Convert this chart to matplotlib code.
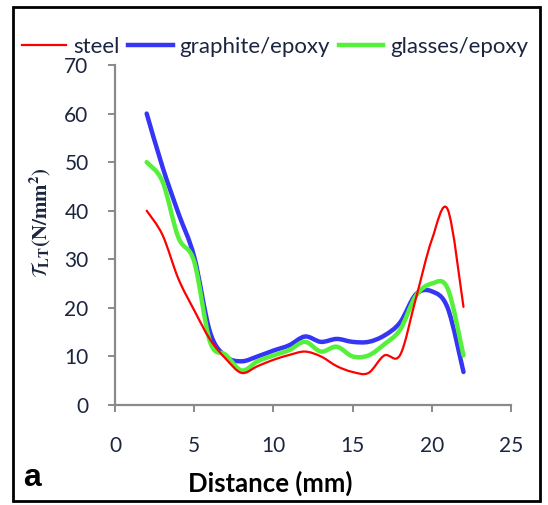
import numpy as np
import matplotlib
matplotlib.use('Agg')
import matplotlib.pyplot as plt
from matplotlib.path import Path
from matplotlib.patches import PathPatch, Rectangle
from matplotlib.lines import Line2D

plt.rcParams['mathtext.fontset'] = 'stix'

#distância (mm) e tensão de cisalhamento (N/mm2)
distance = [2, 3, 4, 5, 6, 7, 8, 9, 10, 11, 12, 13, 14, 15, 16, 17, 18, 19, 20, 21, 22]
steel = [40, 35, 26, 19.5, 13.5, 9.5, 6.6, 8, 9.3, 10.3, 11, 10, 8, 6.8, 6.6, 10.2, 10.3, 22, 34, 40.3, 20.2]
graphite = [60, 49, 39.5, 30.5, 15, 10, 9, 10, 11.2, 12.3, 14.1, 13, 13.6, 13, 13, 14.3, 17, 22.8, 23.4, 20, 6.8]
glasses = [50, 46, 34.5, 29.5, 13, 10.3, 7.1, 9, 10.2, 11.3, 13, 11, 12, 10, 10.2, 12.5, 15.5, 22.5, 25, 24, 10.2]

labels = ['steel', 'graphite/epoxy', 'glasses/epoxy']
colors = ['#FF0000', '#3535F5', '#55F03A']
widths = [1.6, 3.2, 3.2]

TXT = '#1c2540'
GRAY = '#8a8a8a'


def smooth_path(x, y):
    #curva suavizada tipo Excel (bezier a partir dos pontos)
    x = np.asarray(x, float)
    y = np.asarray(y, float)
    n = len(x)
    verts = [(x[0], y[0])]
    codes = [Path.MOVETO]
    for i in range(n - 1):
        x0, y0 = (x[i - 1], y[i - 1]) if i > 0 else (x[i], y[i])
        x3, y3 = (x[i + 2], y[i + 2]) if i + 2 < n else (x[i + 1], y[i + 1])
        c1 = (x[i] + (x[i + 1] - x0) / 6, y[i] + (y[i + 1] - y0) / 6)
        c2 = (x[i + 1] - (x3 - x[i]) / 6, y[i + 1] - (y3 - y[i]) / 6)
        verts += [c1, c2, (x[i + 1], y[i + 1])]
        codes += [Path.CURVE4] * 3
    return Path(verts, codes)


fig = plt.figure(figsize=(5.48, 5.05), dpi=100)
ax = fig.add_axes([115/548, 1 - 405/505, 396/548, 340/505])

series = [steel, graphite, glasses]
zorder = [5, 3, 4]
for s, c, w, z in zip(series, colors, widths, zorder):
    ax.add_patch(PathPatch(smooth_path(distance, s), facecolor='none', edgecolor=c,
                           lw=w, zorder=z, capstyle='round', joinstyle='round'))

ax.set_xlim(0, 25)
ax.set_ylim(0, 70)
ax.set_xticks(range(0, 26, 5))
ax.set_yticks(range(0, 71, 10))
for side in ['top', 'right']:
    ax.spines[side].set_visible(False)
for side in ['left', 'bottom']:
    ax.spines[side].set_color(GRAY)
    ax.spines[side].set_linewidth(1.6)
ax.tick_params(direction='out', length=5, width=1.4, color=GRAY, labelcolor=TXT,
               labelsize=15, labelfontfamily='Lato')
ax.tick_params(axis='x', pad=17)
ax.tick_params(axis='y', pad=14)

fig.text(40/548, 1 - 223/505, r'$\mathcal{T}_{\mathbf{LT}}\mathbf{(N/mm^2)}$',
         rotation=90, ha='center', va='center', fontsize=15, color=TXT)
fig.text(270/548, 1 - 483/505, 'Distance (mm)', ha='center', va='center',
         fontsize=18.5, fontweight='bold', family='Lato', color='black')
fig.text(32/548, 1 - 478/505, 'a', ha='center', va='center',
         fontsize=23, fontweight='bold', family='Liberation Sans', color='black')

handles = [Line2D([], [], color=c, lw=w) for c, w in zip(colors, widths)]
leg = fig.legend(handles, labels, loc='center left', bbox_to_anchor=(22/548, 1 - 47/505),
                 ncol=3, frameon=False, prop={'family': 'Lato', 'size': 16},
                 handlelength=2.0, handletextpad=0.3, columnspacing=0.4, borderaxespad=0,
                 borderpad=0)
for t in leg.get_texts():
    t.set_color(TXT)

fig.add_artist(Rectangle((13/548, 1 - 501/505), 527/548, 494/505, transform=fig.transFigure,
                         fill=False, edgecolor='black', lw=2))

fig.savefig('out.png', dpi=100)
